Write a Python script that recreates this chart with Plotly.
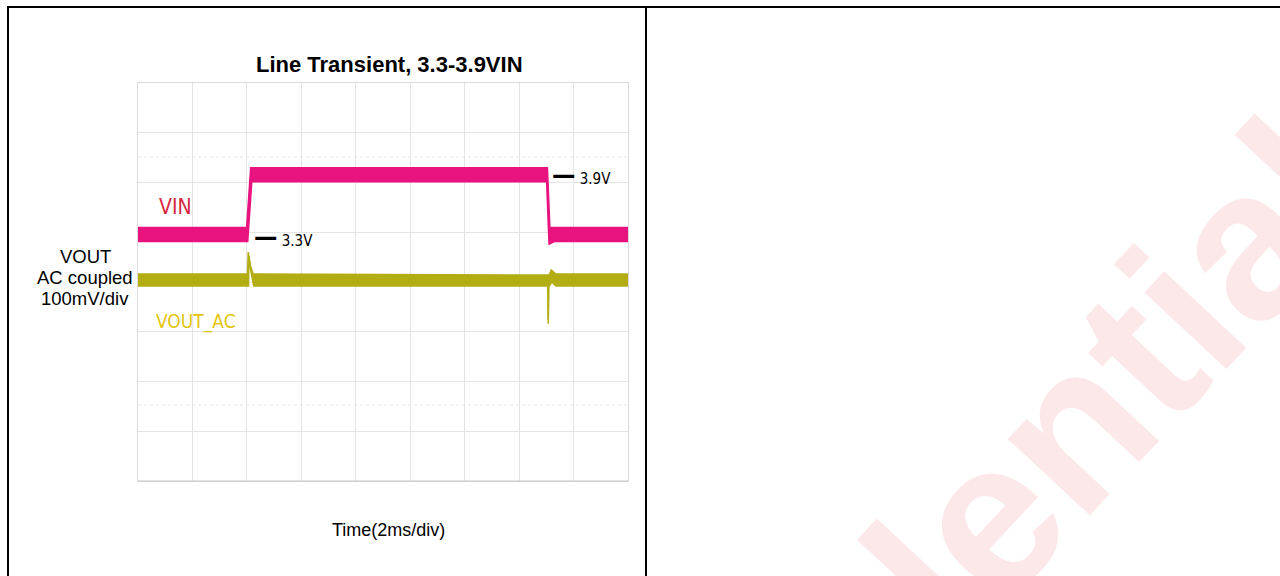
import plotly.graph_objects as go

# ---- data (time in ms, 2 ms/div; VIN in volts, 0.5 V/div; VOUT_AC in mV, 100 mV/div)
vin_upper_t = [0, 3.99, 4.14, 15.04, 15.13, 18]
vin_upper_v = [3.37, 3.37, 3.97, 3.97, 3.37, 3.37]
vin_lower_t = [0, 4.03, 4.18, 15.01, 15.10, 15.14, 15.30, 18]
vin_lower_v = [3.23, 3.23, 3.83, 3.83, 3.20, 3.21, 3.23, 3.23]

vout_upper_t = [0, 4.02, 4.05, 4.12, 4.23, 15.06, 15.072, 15.09, 15.18, 15.35, 18]
vout_upper_mv = [12, 12, 56, 30, 12, 10, -80, 8, 20, 12, 12]
vout_lower_t = [0, 4.06, 4.075, 4.14, 4.25, 15.05, 15.07, 15.085, 15.20, 15.35, 18]
vout_lower_mv = [-12, -12, 48, 20, -12, -12, -88, -14, -4, -12, -12]

x_range = [0, 18]          # 9 divisions x 2 ms
vin_range = [0.823, 4.823]  # 8 divisions x 0.5 V
vout_range = [-404, 396]    # 8 divisions x 100 mV

VIN_COLOR = "#e8137f"
VOUT_COLOR = "#b3ad14"

fig = go.Figure()

# VIN envelope
fig.add_trace(go.Scatter(x=vin_lower_t, y=vin_lower_v, mode="lines",
                         line=dict(color=VIN_COLOR, width=1.5), showlegend=False,
                         hoverinfo="skip"))
fig.add_trace(go.Scatter(x=vin_upper_t, y=vin_upper_v, mode="lines", fill="tonexty",
                         fillcolor=VIN_COLOR, line=dict(color=VIN_COLOR, width=1.5),
                         showlegend=False, hoverinfo="skip"))
# VOUT_AC envelope
fig.add_trace(go.Scatter(x=vout_lower_t, y=vout_lower_mv, mode="lines", yaxis="y2",
                         line=dict(color=VOUT_COLOR, width=1.5), showlegend=False,
                         hoverinfo="skip"))
fig.add_trace(go.Scatter(x=vout_upper_t, y=vout_upper_mv, mode="lines", yaxis="y2",
                         fill="tonexty", fillcolor=VOUT_COLOR,
                         line=dict(color=VOUT_COLOR, width=1.5),
                         showlegend=False, hoverinfo="skip"))

W, H = 1280, 576
def px(x):
    return x / W
def py(y):
    return 1 - y / H

grid = dict(showgrid=True, gridcolor="#e4e4e4", gridwidth=1, showline=True, mirror=True,
            linecolor="#dadada", linewidth=1, showticklabels=False, ticks="",
            zeroline=False, fixedrange=True)

fig.update_layout(
    width=W, height=H,
    margin=dict(l=0, r=0, t=0, b=0),
    paper_bgcolor="white", plot_bgcolor="white",
    xaxis=dict(domain=[px(138), px(628)], range=x_range, dtick=2, tick0=0, **grid),
    yaxis=dict(domain=[py(481), py(83)], range=vin_range, dtick=0.5, tick0=vin_range[0], **grid),
    yaxis2=dict(overlaying="y", range=vout_range, visible=False, showgrid=False),
    showlegend=False,
)

shapes = []
# faint dotted reference lines of the scope screen
for yy in [157, 405]:
    shapes.append(dict(type="line", xref="paper", yref="paper", x0=px(138), x1=px(628),
                       y0=py(yy), y1=py(yy), line=dict(color="#e6e6e6", width=1, dash="dot"),
                       layer="below"))
# bottom edge slightly darker
shapes.append(dict(type="line", xref="paper", yref="paper", x0=px(138), x1=px(628),
                   y0=py(481), y1=py(481), line=dict(color="#c4c4c4", width=1)))
# table frame
shapes.append(dict(type="line", xref="paper", yref="paper", x0=px(7), x1=1, y0=py(7), y1=py(7),
                   line=dict(color="black", width=2)))
shapes.append(dict(type="line", xref="paper", yref="paper", x0=px(8), x1=px(8), y0=0, y1=py(7),
                   line=dict(color="black", width=2)))
shapes.append(dict(type="line", xref="paper", yref="paper", x0=px(646), x1=px(646), y0=0, y1=py(7),
                   line=dict(color="black", width=2)))
fig.update_layout(shapes=shapes)

ARIAL = "Liberation Sans, Arial, sans-serif"
NARROW = "DejaVu Sans Condensed, sans-serif"

ann = []
# watermark
ann.append(dict(text="<b>Confidential</b>", xref="paper", yref="paper", x=px(905), y=py(605),
                showarrow=False, textangle=-47, xanchor="center", yanchor="middle",
                font=dict(family=ARIAL, size=212, color="#fde8e9")))
# title
ann.append(dict(text="<b>Line Transient, 3.3-3.9VIN</b>", xref="paper", yref="paper",
                x=px(389), y=py(64), showarrow=False, xanchor="center", yanchor="middle",
                font=dict(family=ARIAL, size=22, color="black")))
# x axis label
ann.append(dict(text="Time(2ms/div)", xref="paper", yref="paper", x=px(388), y=py(530),
                showarrow=False, xanchor="center", yanchor="middle",
                font=dict(family=ARIAL, size=18, color="black")))
# left label
for txt, yy in [("VOUT", 256), ("AC coupled", 277), ("100mV/div", 298)]:
    ann.append(dict(text=txt, xref="paper", yref="paper", x=px(85), y=py(yy), showarrow=False,
                    xanchor="center", yanchor="middle",
                    font=dict(family=ARIAL, size=18.5, color="black")))
# trace labels
ann.append(dict(text="VIN", xref="paper", yref="paper", x=px(175), y=py(207), showarrow=False,
                xanchor="center", yanchor="middle",
                font=dict(family=NARROW, size=21, color="#d7263f")))
ann.append(dict(text="VOUT_AC", xref="paper", yref="paper", x=px(196), y=py(321), showarrow=False,
                xanchor="center", yanchor="middle",
                font=dict(family=NARROW, size=19, color="#e4c40c")))
# level markers
ann.append(dict(text="<span style='font-size:26px'><b>—</b></span> 3.3V", xref="paper",
                yref="paper", x=px(252), y=py(237), showarrow=False, xanchor="left",
                yanchor="middle", font=dict(family=NARROW, size=15, color="black")))
ann.append(dict(text="<span style='font-size:26px'><b>—</b></span> 3.9V", xref="paper",
                yref="paper", x=px(550), y=py(175), showarrow=False, xanchor="left",
                yanchor="middle", font=dict(family=NARROW, size=15, color="black")))
fig.update_layout(annotations=ann)

fig.write_html("out.html")
